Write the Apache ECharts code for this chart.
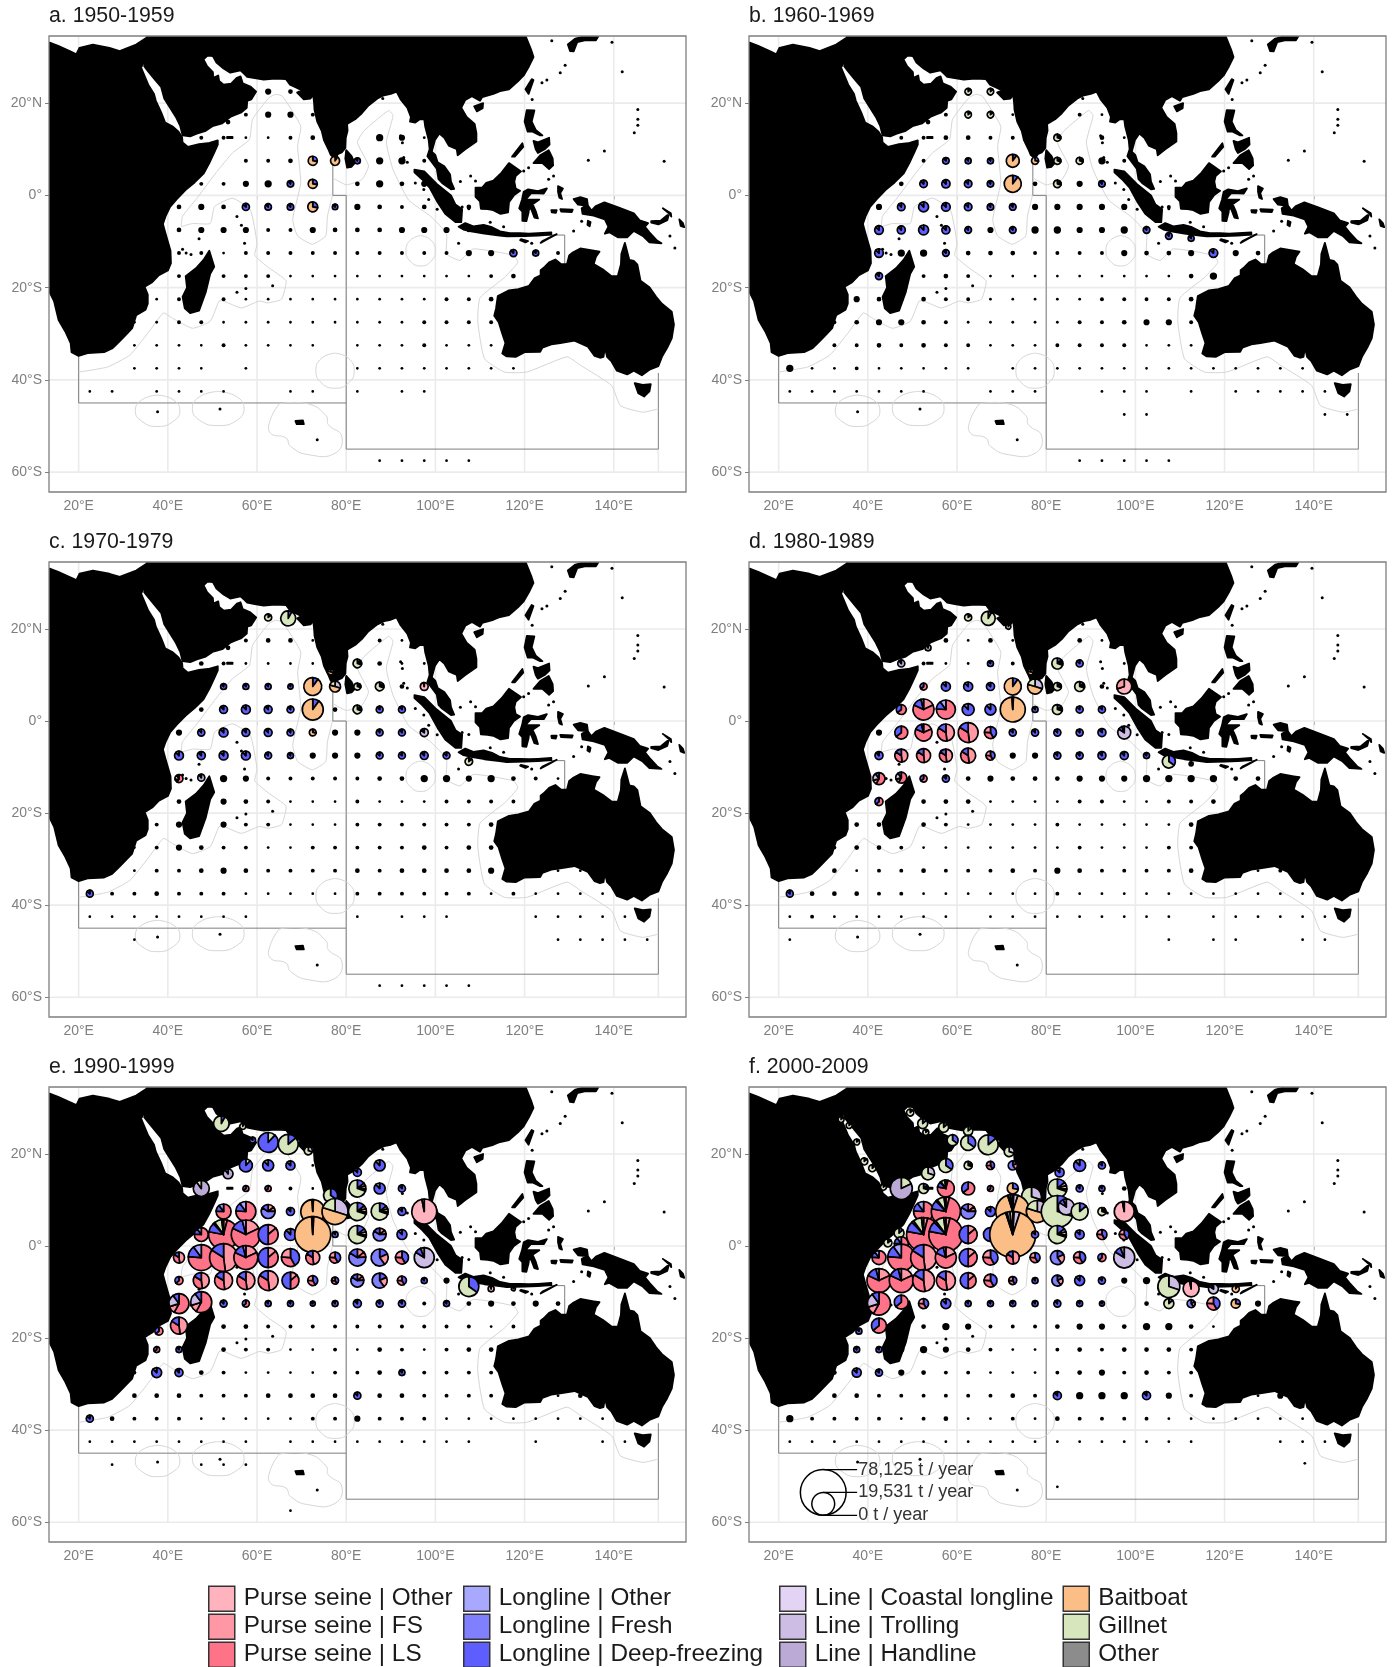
<!DOCTYPE html>
<html><head><meta charset="utf-8">
<script src="https://cdn.jsdelivr.net/npm/echarts@6/dist/echarts.min.js"></script>
<style>html,body{margin:0;background:#fff}#c{width:1397px;height:1667px}</style></head>
<body><div id="c"></div>
<script>
const gearNames=['Purse seine | Other','Purse seine | FS','Purse seine | LS','Longline | Other','Longline | Fresh','Longline | Deep-freezing','Line | Coastal longline','Line | Trolling','Line | Handline','Baitboat','Gillnet','Other'];
const gearColors=['#FFB3BE','#FF97A5','#FF7389','#A8A8FF','#8080FF','#5E5EFF','#E3D3F5','#CDBDE5','#BBAAD5','#FBBE87','#D8E6BE','#8C8C8C'];
const panelTitles=['a. 1950-1959','b. 1960-1969','c. 1970-1979','d. 1980-1989','e. 1990-1999','f. 2000-2009'];
const lonTicks=[20,40,60,80,100,120,140];
const latTicks=[20,0,-20,-40,-60];
const bubbleValues=[78125,19531,0];
const bubbleLabels=['78,125 t / year','19,531 t / year','0 t / year'];

// slice mixes, clockwise from 12 o'clock: [gear, share]
const mixes={
 BAIT:[[5,1],[9,98],[8,1]], BA2:[[5,10],[9,90]], BA3:[[5,28],[9,72]], BAM:[[5,1],[7,4],[9,90],[5,1],[8,2],[10,2]],
 BT:[[7,30],[9,50],[10,20]], GILL:[[5,8],[10,92]], GI2:[[5,14],[10,86]], GMX:[[5,14],[8,6],[9,6],[11,4],[10,70]], GT:[[7,30],[10,70]],
 GD:[[5,35],[10,65]], DEEP:[[5,88],[11,12]], DG:[[10,12],[5,88]], FRESH:[[1,14],[2,10],[4,60],[5,16]], MIXB:[[5,18],[1,22],[4,60]],
 LSW:[[1,18],[2,64],[5,14],[3,4]], LSG:[[1,4],[2,74],[5,10],[8,2],[10,8],[7,2]], LSB:[[2,76],[5,14],[3,10]], FSA:[[1,48],[2,36],[5,16]],
 BLR:[[1,14],[2,36],[5,50]], PSO:[[0,97],[11,3]], PFS:[[0,70],[1,30]], TROLL:[[7,84],[5,10],[11,6]], HAND:[[8,90],[10,10]], HG:[[10,18],[8,82]],
 PH:[[2,58],[1,12],[7,20],[5,10]], MIXR:[[5,42],[2,34],[1,24]], LSD:[[2,64],[5,36]], CO:[[6,40],[10,60]]
};

// dot rows: [lat, column (0 = 22.5E, 5 degrees each), catch in 100 t per column]
const dotsA=[[22.5,8,[10,5]],[15.9,6.2,[5]],[17.5,7,[3,10,10,3]],[12.5,5,[3,3,1,1,3,5,0,0,15,10,1,1]],[7.5,7,[3,3,5,0,0,0,15,15,3]],[2.5,5,[3,3,10,15,0,0,0,5,15,5,10]],
[-2.5,4,[5,10,5,0,0,0,0,10,10,5,3,5,0,5]],[-7.5,4,[5,10,10,10,3,3,10,5,5,5,10,10,10,5,5]],[-12.5,4,[3,3,1,3,3,3,3,3,3,3,3,3,3,10,10,0,10,3]],[-17.5,4,[3,0,3,3,3,1,1,1,1,1,1,1,1,1,3,5]],
[-22.5,3,[1,3,3,3,1,1,1,1,1,1,1,1,1,3,3,5]],[-27.5,2,[1,1,3,3,1,1,1,1,1,1,1,1,1,3,3,3,3]],[-32.5,1,[1,1,1,1,1,3,1,1,1,1,0,1,1,1,3,1,1,1]],[-37.5,2,[1,1,1,1,0,1,0,0,0,0,1,1,1,1,1,1,1,1]],
[-42.5,0,[1,1,0,1,1,1,1,0,0,1,1,0,1,0,1,1]],[-57.5,13,[1,1,1,1,1]]];
const dotsB=[[15.9,6.2,[5]],[17.5,7,[3,0,0,1,0,3,3,1]],[12.5,5,[3,3,5,5,3,3,0,0,0,5,1,1]],[7.5,6,[3,0,0,0,0,0,0,0,15,3]],[2.5,5,[5,0,0,0,0,0,5,0,10]],
[-2.5,4,[10,0,0,0,0,0,0,10,10,10,10,10,0,3]],[-7.5,9,[10,0,15,15,10,10,15]],[-12.5,5,[15,15,0,5,5,5,3,3,3,3,10,5,5,10,0,10,5]],[-17.5,6,[3,5,3,1,1,1,1,1,1,1,1,1,5,15]],
[-22.5,3,[10,5,5,5,3,3,1,1,1,1,1,3,3,3,3,5]],[-27.5,2,[3,5,10,10,5,3,1,1,1,1,1,3,3,5,10,10,3]],[-32.5,1,[5,3,3,5,3,5,3,3,1,1,1,3,3,3,3,1,1,1]],
[-37.5,0,[15,1,1,3,1,1,1,1,1,0,1,1,1,1,1,1,1,1,1,1,1,1,1,1]],[-42.5,0,[1,1,1,1,1,1,1,0,0,1,1,1,0,0,1,1,1,0,1,0,1,1,1,1,1]],[-47.5,15,[1,1]],[-47.5,24,[1,1]],[-57.5,13,[1,1,1,1,1]]];
const dotsC=[[15.9,6.2,[5]],[17.5,7,[3,5,5,1,0,3,3,1]],[12.5,5,[5,3,1,1,1,1,0,0,5,1,1]],[7.5,14,[5]],[2.5,5,[5,0,0,0,0,0,5,0,0,0]],
[-2.5,4,[10,0,0,0,0,0,0,10,10]],[-7.5,10,[10,10,10]],[-12.5,6,[15,10,3,3,3,3,3,5,5,15,15,10,15,5,3,1]],[-17.5,4,[5,0,10,5,3,1,1,1,3,1,1,1,3,3,3,3]],
[-22.5,3,[3,10,5,10,3,3,1,1,1,3,3,3,3,3,3,5]],[-27.5,2,[1,3,10,5,3,3,1,1,3,3,3,3,3,5,3,5,5]],[-32.5,1,[5,1,3,3,5,10,5,3,3,3,3,5,3,5,5,5,5,10,0,0,1,1]],
[-37.5,0,[15,3,3,5,3,3,3,1,1,1,1,1,3,3,3,3,3,3,1,3,1,1,1,1]],[-42.5,0,[1,1,1,1,1,1,1,1,0,0,0,0,1,0,1,1,1,0,0,0,1,1,1,1,1]],[-47.5,2,[1]],[-47.5,21,[1,1,1,1,1]],[-57.5,13,[1,1,1,1,1]]];
const dotsD=[[17.5,7,[5,1,5,1,0,3,5,1]],[12.5,6,[3,1,1,0,3,0,0,0,0,1]],[7.5,14,[5]],[-2.5,4,[10]],[-7.5,10,[10,10]],
[-12.5,8,[5,10,5,5,5,10,10,10,15,15,15,15,5,5]],[-17.5,6,[5,5,5,1,1,1,1,3,3,1,1,3,3,5]],[-22.5,3,[5,5,5,5,3,1,1,1,1,3,1,1,1,1,1,5]],[-27.5,2,[3,5,5,3,1,1,1,1,1,1,1,3,1,1,1,3,3]],
[-32.5,1,[5,5,1,3,3,5,3,3,3,5,3,10,5,3,3,3,3,5,0,0,1,3]],[-37.5,1,[5,5,5,3,3,1,1,1,1,1,1,3,1,1,1,1,1,1,1,1,1,1,1]],[-42.5,0,[1,3,1,1,1,1,1,1,0,1,1,1,1,1,1,1,1,1,0,1,1,1,1,1,1]],[-47.5,0,[1]],[-47.5,17,[1,0,1,1,0,0,1,1]]];
const dotsE=[[17.5,10,[1]],[12.5,9,[3,1]],[-7.5,16,[10]],[-12.5,15,[3]],[-12.5,17,[5,10,5,10,5]],
[-17.5,6,[5,5,3,3,3,3,3,3,3,3,3,3,1,3]],[-22.5,5,[3,5,3,3,1,1,3,1,5,3,1,3,5,5]],[-27.5,2,[3,0,0,5,3,1,1,1,1,3,3,5,0,3,3,3,3]],[-32.5,1,[5,5,5,5,3,3,3,5,5,5,5,0,5,5,3,3,3,3,0,0,1,5]],
[-37.5,1,[5,3,3,3,1,1,1,1,1,3,3,10,3,3,3,1,1,1,1,1,1,1,1]],[-42.5,0,[1,1,1,1,1,1,1,1,0,1,1,1,1,1,1,1,1,1,0,0,1,0,0,1,1]],[-47.5,1,[1,0,0,0,1,1,1]],[-57.5,9,[1]]];
const dotsF=[[12.5,15,[5]],[-7.5,15,[10,15]],[-12.5,16,[5]],[-12.5,21,[10]],[-17.5,6,[5,15,10,3,3,3,5,10,10,5,15,15,5,1]],[-22.5,5,[10,15,10,5,3,1,1,3,5,3,5,5,5,3]],
[-27.5,2,[5,0,0,10,5,3,3,1,1,1,3,5,10,3,5,3,3]],[-32.5,1,[5,5,5,3,3,3,3,3,3,5,3,0,15,15,15,0,10,3,0,0,1,10]],[-37.5,0,[15,3,3,3,3,1,3,5,1,1,3,1,5,3,3,3,3,1,1,1,1,1,1,1,1]],
[-42.5,0,[1,1,1,1,1,1,1,1,1,1,1,1,1,1,1,1,1,1,1,0,0,0,1,1,1]],[-47.2,23.1,[1]],[-52.3,12,[1]]];

// pies: [lon, lat, catch t/year, slice mix]
const piesA=[[72.5,7.5,3300,'BA3'],[77.5,7.5,3300,'BA2'],[82.5,7.5,1450,'DEEP'],[67.5,2.5,1700,'DEEP'],[72.5,2.5,3300,'BA3'],[57.5,-2.5,2000,'DEEP'],[62.5,-2.5,1700,'DEEP'],[67.5,-2.5,1700,'DEEP'],[72.5,-2.5,4000,'BA3'],[77.5,-2.5,1200,'DEEP'],[117.5,-12.5,2000,'DEEP'],[122.5,-12.5,1450,'DEEP']];
const piesB=[[62.5,22.5,1700,'GI2'],[67.5,22.5,1700,'GI2'],[62.5,17.5,1700,'GI2'],[67.5,17.5,1700,'GI2'],[82.5,12.5,2000,'GMX'],[57.5,7.5,1700,'DEEP'],[62.5,7.5,1450,'DEEP'],[67.5,7.5,1450,'DEEP'],[72.5,7.5,6800,'BA2'],[77.5,7.5,2000,'BA3'],[82.5,7.5,2000,'GMX'],[87.5,7.5,2000,'GMX'],
[52.5,2.5,2300,'DEEP'],[57.5,2.5,2800,'DEEP'],[62.5,2.5,2300,'DEEP'],[67.5,2.5,1700,'DEEP'],[72.5,2.5,11700,'BA2'],[82.5,2.5,2300,'GMX'],[92.5,2.5,1700,'DEEP'],
[47.5,-2.5,2300,'DEEP'],[52.5,-2.5,4000,'DEEP'],[57.5,-2.5,3000,'DEEP'],[62.5,-2.5,2300,'DEEP'],[67.5,-2.5,1700,'DEEP'],[72.5,-2.5,1800,'DEEP'],
[42.5,-7.5,3000,'DEEP'],[47.5,-7.5,2600,'DEEP'],[52.5,-7.5,4000,'DEEP'],[57.5,-7.5,2600,'DEEP'],[62.5,-7.5,1800,'DEEP'],[72.5,-7.5,1800,'DEEP'],[102.5,-7.5,1800,'DEEP'],[107.5,-8.8,1800,'DEEP'],[112.5,-9.3,1450,'DEEP'],
[42.5,-12.5,3000,'DEEP'],[57.5,-12.5,1800,'DEEP'],[117.5,-12.5,3000,'DEEP'],[42.5,-17.5,2000,'DEEP']];
const piesC=[[62.5,22.5,2000,'GI2'],[67,22.3,9000,'GILL'],[76.5,10.7,1450,'BT'],[82.5,12.5,3000,'GMX'],[52.5,7.5,1450,'DEEP'],[57.5,7.5,1450,'DEEP'],[62.5,7.5,1450,'DEEP'],[67.5,7.5,1100,'DEEP'],[72.5,7.5,13000,'BA2'],[77.5,7.5,4800,'BT'],[82.5,7.5,2000,'GMX'],[87.5,7.5,3000,'GMX'],[97.5,7.5,2500,'PSO'],
[52.5,2.5,2500,'DEEP'],[57.5,2.5,3200,'DEEP'],[62.5,2.5,2500,'DEEP'],[67.5,2.5,1900,'DEEP'],[72.5,2.5,17800,'BA2'],[82.5,2.5,3000,'GMX'],[87.5,2.5,1900,'DEEP'],[92.5,2.5,1900,'DEEP'],
[47.5,-2.5,2000,'DEEP'],[52.5,-2.5,3200,'DEEP'],[57.5,-2.5,2500,'DEEP'],[62.5,-2.5,2500,'DEEP'],[67.5,-2.5,1900,'DEEP'],[72.5,-2.5,1900,'BA3'],[87.5,-2.5,1900,'DEEP'],[92.5,-2.5,1900,'DEEP'],[97.5,-2.5,2600,'TROLL'],
[42.5,-7.5,3200,'DEEP'],[47.5,-7.5,2600,'DEEP'],[52.5,-7.5,3200,'DEEP'],[57.5,-7.5,3200,'DEEP'],[62.5,-7.5,1900,'DEEP'],[67.5,-7.5,1450,'DEEP'],[87.5,-7.5,1900,'DEEP'],[92.5,-7.5,1900,'DEEP'],[97.5,-7.5,2500,'DEEP'],[102.5,-7.5,1900,'DEEP'],[107.5,-8.8,2300,'GI2'],
[42.5,-12.5,2600,'PH'],[47.5,-12.3,2000,'HAND'],[22.5,-37.5,1900,'DEEP']];
const piesD=[[62.5,22.5,2000,'GI2'],[67,22.3,7900,'GILL'],[71.5,20.5,1000,'GILL'],[53.5,15.9,1450,'HAND'],[47.5,12.5,2000,'HAND'],[67.5,12.5,1450,'DEEP'],[76.5,10.7,1450,'BT'],[82.5,12.5,4900,'GMX'],[87.5,12.5,2000,'DEEP'],
[52.5,7.5,2000,'LSD'],[57.5,7.5,3300,'DEEP'],[62.5,7.5,3300,'DEEP'],[67.5,7.5,2600,'DEEP'],[72.5,7.5,11700,'BA2'],[77.5,7.5,9100,'BT'],[82.5,7.5,2600,'GMX'],[87.5,7.5,4000,'GMX'],[97.5,7.5,9100,'PFS'],
[47.5,2.5,4000,'LSD'],[52.5,2.5,17800,'LSW'],[57.5,2.5,14600,'LSB'],[62.5,2.5,5800,'DEEP'],[67.5,2.5,4900,'DEEP'],[72.5,2.5,25200,'BAIT'],[77.5,2.5,1450,'DEEP'],[82.5,2.5,4000,'GMX'],[87.5,2.5,2000,'DEEP'],[92.5,2.5,2000,'DEEP'],
[47.5,-2.5,6800,'LSD'],[52.5,-2.5,11700,'LSW'],[57.5,-2.5,11700,'FSA'],[62.5,-2.5,16100,'FSA'],[67.5,-2.5,5800,'MIXR'],[72.5,-2.5,2000,'DEEP'],[77.5,-2.5,2000,'DEEP'],[82.5,-2.5,2000,'DEEP'],[87.5,-2.5,2000,'DEEP'],[92.5,-2.5,2600,'DEEP'],[97.5,-2.5,6800,'TROLL'],
[42.5,-7.5,2600,'DEEP'],[47.5,-7.5,6800,'FSA'],[52.5,-7.5,7900,'FSA'],[57.5,-7.5,6800,'FSA'],[62.5,-7.5,9100,'FSA'],[67.5,-7.5,3300,'MIXR'],[82.5,-7.5,2000,'DEEP'],[87.5,-7.5,2000,'DEEP'],[92.5,-7.5,2600,'DEEP'],[97.5,-7.5,2600,'DEEP'],[102.5,-7.5,1450,'DEEP'],[107.5,-8.8,6800,'GD'],[112.5,-9.3,650,'DEEP'],
[42.5,-12.5,5800,'PH'],[47.5,-12.3,4900,'PH'],[52.5,-12.5,2000,'LSD'],[57.5,-12.5,2000,'DEEP'],[42.5,-17.5,2600,'LSD'],[22.5,-37.5,1900,'DEEP']];
const piesE=[[52,26.6,9800,'GILL'],[56.8,26,1450,'GILL'],[59,23,1450,'DEEP'],[62.5,22.5,16100,'DG'],[67,22.1,16100,'GI2'],[71.5,20.7,2600,'GT'],[53.5,15.7,4000,'HAND'],[57.5,17.5,6800,'DG'],[62.5,17.5,4900,'DEEP'],[67.5,17.5,3300,'DEEP'],[82.5,16,2600,'DEEP'],[87.5,17.5,4900,'DEEP'],
[47.5,12.5,10300,'HAND'],[57.5,12.5,1450,'LSD'],[62.5,12.5,1450,'LSD'],[76.5,11,7900,'GD'],[82.5,12.5,11700,'GMX'],[87.5,12.5,4900,'DEEP'],[92.5,12.5,2000,'DEEP'],
[52.5,7.5,9100,'LSB'],[57.5,7.5,16100,'LSB'],[62.5,7.5,7900,'FRESH'],[67.5,7.5,2600,'DEEP'],[72.5,7.5,23200,'BAIT'],[77.5,7.5,27300,'BT'],[82.5,7.5,13100,'GMX'],[87.5,7.5,11700,'GMX'],[92.5,7.5,2600,'DEEP'],[97.5,7.5,25200,'PSO'],
[47.5,2.5,7900,'LSB'],[52.5,2.5,36000,'LSG'],[57.5,2.5,34000,'LSW'],[62.5,2.5,16100,'BLR'],[67.5,2.5,5800,'DEEP'],[72.5,2.5,52300,'BAIT'],[77.5,2.5,1450,'DEEP'],[82.5,2.5,13100,'GMX'],[87.5,2.5,6800,'FRESH'],[92.5,2.5,4000,'DEEP'],
[42.5,-2.5,4900,'FSA'],[47.5,-2.5,27300,'LSB'],[52.5,-2.5,31600,'FSA'],[57.5,-2.5,23200,'LSW'],[62.5,-2.5,16100,'BLR'],[67.5,-2.5,13100,'MIXR'],[72.5,-2.5,7900,'FSA'],[77.5,-2.5,4900,'MIXR'],[82.5,-2.5,11700,'FRESH'],[87.5,-2.5,11700,'MIXB'],[92.5,-2.5,6800,'MIXR'],[97.5,-2.5,16100,'TROLL'],
[42.5,-7.5,2600,'LSD'],[47.5,-7.5,10300,'FSA'],[52.5,-7.5,13100,'FSA'],[57.5,-7.5,13100,'FSA'],[62.5,-7.5,16100,'FSA'],[67.5,-7.5,11700,'BLR'],[72.5,-7.5,4000,'MIXR'],[77.5,-7.5,2000,'MIXR'],[82.5,-7.5,6800,'FRESH'],[87.5,-7.5,9100,'MIXB'],[92.5,-7.5,3300,'MIXR'],[97.5,-7.5,1450,'DEEP'],[107.5,-8.8,16100,'GD'],[112.5,-9.3,1450,'PSO'],[117.5,-9.3,650,'GILL'],
[42.5,-12.5,16100,'PH'],[47.5,-12.2,17800,'PH'],[52.5,-12.5,2000,'DEEP'],[57.5,-12.5,2000,'LSD'],[62.5,-12.5,1450,'DEEP'],[67.5,-12.5,1450,'DEEP'],[72.5,-12.5,1000,'DEEP'],[77.5,-12.5,1450,'DEEP'],[82.5,-12.5,2600,'DEEP'],[87.5,-12.5,2000,'DEEP'],[92.5,-12.5,2000,'DEEP'],[102.5,-12.5,1450,'DEEP'],
[42.5,-17.3,11700,'FSA'],[38,-18.5,2600,'LSD'],[37.5,-22.5,1450,'LSD'],[42.5,-22.5,1450,'DEEP'],[37.5,-27.5,4000,'DEEP'],[42.5,-27.5,2600,'DEEP'],[92.5,-27.5,1450,'DEEP'],[82.5,-32.5,2000,'DEEP'],[22.5,-37.5,2000,'DEEP']];
const piesF=[[34,27.5,1450,'GI2'],[35.8,26.2,1450,'GI2'],[37.5,22.6,1450,'GI2'],[39.2,18.4,2000,'GI2'],[41,16.9,2000,'GI2'],[43.5,12.8,1450,'GI2'],[49.5,29,2000,'GI2'],[52.3,26.6,4000,'GI2'],[53,24.7,1450,'GI2'],[57,25.8,4000,'GI2'],[62.5,25,3300,'GI2'],[59,23,4900,'GD'],[62.5,22.4,9100,'GD'],[67,22,16100,'GI2'],[71.7,20.5,4000,'GT'],
[53.5,15.8,6800,'GT'],[57.5,17.5,7900,'GD'],[62.5,17.5,2600,'GMX'],[67.5,17.5,2600,'MIXR'],[72.5,17.5,3300,'MIXB'],[83,16,3300,'DEEP'],[87.5,17.5,5800,'DEEP'],[92.5,17.5,2000,'DEEP'],
[47.5,12.5,19500,'HG'],[52.5,12.5,4000,'GMX'],[57.5,12.5,11700,'LSG'],[62.5,12.5,6800,'LSD'],[67.5,12.5,1450,'LSD'],[72.5,12.5,4900,'BA3'],[76.7,10.7,16100,'GT'],[82.5,12.5,14600,'GMX'],[87.5,12.5,2000,'DEEP'],[92.5,12.5,1450,'DEEP'],
[52.5,7.5,16100,'LSB'],[57.5,7.5,34000,'LSG'],[62.5,7.5,9100,'FRESH'],[67.5,7.5,4000,'DEEP'],[72.5,7.5,46600,'BAM'],[78,7.5,19500,'BT'],[82.5,7.5,41300,'GMX'],[84.5,8.5,10300,'TROLL'],[87.5,7.5,11700,'GI2'],[92.5,7.5,2600,'GMX'],[97.5,7.5,16100,'PSO'],
[44.5,0.7,2600,'GI2'],[47,2.8,4000,'GI2'],[47.5,0.5,7900,'LSB'],[52.5,2.5,46600,'LSG'],[57.5,2.5,46600,'LSG'],[62.5,2.5,13100,'BLR'],[67.5,2.5,7900,'BLR'],[72.5,2.5,85400,'BAM'],[77.5,2.5,2000,'DEEP'],[82.5,2.5,13100,'GMX'],[87.5,2.5,3300,'DEEP'],[92.5,2.5,4000,'MIXR'],[97.5,2.5,4000,'MIXR'],
[42.5,-2.5,7900,'LSB'],[47.5,-2.5,29400,'LSB'],[52.5,-2.5,27300,'FSA'],[57.5,-2.5,17800,'LSW'],[62.5,-2.5,13100,'BLR'],[67.5,-2.5,9100,'MIXR'],[72.5,-2.5,6800,'FSA'],[77.5,-2.5,4000,'MIXR'],[82.5,-2.5,7900,'MIXB'],[87.5,-2.5,5800,'MIXR'],[92.5,-2.5,2600,'LSD'],[97.5,-2.5,17800,'TROLL'],
[42.5,-7.5,23200,'LSW'],[47.5,-7.5,23200,'LSW'],[52.5,-7.5,19500,'FSA'],[57.5,-7.5,14600,'FSA'],[62.5,-7.5,10300,'BLR'],[67.5,-7.5,6800,'MIXR'],[72.5,-7.5,2600,'MIXR'],[77.5,-7.5,1450,'DEEP'],[82.5,-7.5,4900,'MIXB'],[87.5,-7.5,4000,'DEEP'],[92.5,-7.5,2000,'DEEP'],[107.5,-8.8,19500,'GT'],[112.5,-9.3,10300,'PSO'],[117.5,-9.3,4000,'TROLL'],[122.5,-9.3,2000,'BA2'],
[42.5,-12.5,21300,'PH'],[47.5,-12.2,7900,'LSD'],[52.5,-12.5,4000,'MIXR'],[57.5,-12.5,4000,'DEEP'],[62.5,-12.5,1450,'DEEP'],[67.5,-12.5,1450,'DEEP'],[72.5,-12.5,1450,'DEEP'],[77.5,-12.5,1450,'DEEP'],[82.5,-12.5,2000,'DEEP'],[87.5,-12.5,1450,'DEEP'],[92.5,-12.5,1000,'DEEP'],[107.5,-12.5,4000,'GI2'],[112.5,-12.5,2600,'MIXB'],[117.5,-12.5,6800,'MIXR'],[122.5,-12.5,3300,'BA3'],
[42.5,-17.3,9100,'LSD'],[38,-18.5,1450,'DEEP'],[37.5,-22.5,1450,'DEEP'],[42.5,-22.5,1450,'DEEP'],[37.5,-27.5,3300,'DEEP'],[42.5,-27.5,2000,'DEEP'],[82.5,-32.5,2600,'DEEP'],[102.5,-32.5,2600,'DEEP']];

// coastlines [lon, lat]
const landAfrica=[[10,33.1],[13.5,33.1],[15.4,32.4],[18,31.3],[19.5,30.6],[20.2,32],[23.2,32.7],[26.9,32],[29.2,31.3],[32.9,32.7],[35.3,34.2],[35,29.5],[34,27.7],[35.6,24],[36.9,22],[37.3,20.5],[38.5,18],[39.4,15.8],[41,15],[42.4,13.8],[43.2,12.6],[43.3,11.5],[44.5,10.5],[47,11.1],[49,11.3],[51.2,11.9],[51.2,11],[50.5,9.5],[49.3,7],[48,4.7],[46,2.8],[44,1.2],[42,-0.8],[40.5,-2.5],[39.5,-4.5],[38.9,-6.2],[39.4,-8],[40.6,-12],[40.7,-14.7],[40,-16.3],[38,-17.3],[36.5,-18.8],[34.8,-19.8],[35.5,-21.5],[35.5,-23.5],[35,-24.8],[32.9,-26],[32,-28.8],[30.8,-30],[29,-31.8],[27.5,-33.2],[25.7,-34],[22,-34.2],[20,-34.8],[18.4,-34],[18.2,-32],[17,-29.5],[15.5,-27],[14.5,-23],[13.5,-21],[10,-18]];
const landAsia=[[35.3,34.2],[35.3,36],[120.2,36],[120.2,34.6],[121.5,31.5],[122,30],[121,28],[119.8,26],[118.5,24.7],[116.5,23],[114.5,22.6],[113,22],[110.5,21.3],[110,20.5],[108.2,21.5],[106.7,20.7],[105.8,19],[107,17],[108.8,15.5],[109.2,13.5],[109.2,11.7],[106.7,10],[105,8.7],[104.8,10],[103,10.8],[102,12.5],[100.9,13.4],[99.9,12],[99.2,9.5],[100,8.7],[100.5,7.2],[102,6.3],[103.3,4.5],[103.5,3],[104.2,1.4],[103.5,1.3],[101.5,2.7],[100.7,3.5],[100.3,5.8],[99.5,6.8],[98.2,8.5],[98.7,10],[98.5,12],[97.7,15],[97.5,16.5],[96.5,16.5],[95.5,15.8],[94.3,16],[94.5,17],[93.7,19],[92.2,20.8],[91.3,22.5],[90,22],[88.5,21.7],[87,21],[85,19.5],[83.5,17.8],[82,16.5],[80.2,15.5],[80.3,14],[79.9,12.5],[79.8,10.3],[79,9.3],[78.2,9],[77.5,8],[76.5,8.8],[76,10],[75,12],[74.5,14],[73.5,16],[72.9,18.5],[72.8,20],[72.6,21.8],[72,21],[70.5,20.8],[69,22.3],[70,22.8],[68.5,23.5],[67.4,24],[66.5,25.2],[64,25.3],[61.5,25.1],[59.5,25.4],[57.8,25.7],[57.3,26.2],[56.3,27.1],[54,26.6],[52.5,27.5],[50.9,28.8],[50.1,30.2],[48.9,30.3],[48,29.5],[48.8,28],[50.1,26.7],[50.2,25.5],[51.3,26],[51.5,24.8],[52.5,24],[54.2,24.2],[55.5,25.5],[56.3,25.8],[56.8,24.3],[58.5,23.6],[59.8,22.5],[58.7,20.8],[57.8,20.5],[57.7,19],[56.5,18],[55.2,17.5],[54,17],[52.2,15.6],[50,15],[48.5,14],[46.5,13.4],[45,12.8],[43.3,13],[42.8,15],[41.8,17],[40.5,19],[39.2,21],[38.5,23.5],[37.2,25],[35.5,27],[34.7,28],[35,29.5]];
const landAustralia=[[113.2,-26.1],[113.6,-24.5],[114,-21.8],[116.5,-20.6],[118.6,-20.3],[121,-19.6],[122.2,-18],[123.6,-17.3],[123.6,-16.2],[124.5,-15.5],[125.5,-14.5],[126.9,-13.9],[128.2,-14.9],[129.5,-14.9],[130,-13],[130.8,-12.4],[132.5,-11.5],[135.5,-12],[136.8,-12.2],[136,-13.3],[135.5,-14.9],[137.5,-16],[139.5,-17.5],[140.9,-17.5],[141.6,-15],[141.7,-12.7],[142.5,-10.3],[143.5,-14],[144.5,-14.2],[145.3,-15],[146,-18.5],[148,-19.9],[149.5,-22],[150.8,-23.5],[153,-25.2],[153.5,-28],[153,-31],[152,-33],[150.8,-35],[150,-37],[148,-37.8],[146.3,-39],[144.5,-38],[143,-38.8],[140.7,-38],[139.5,-36],[138.5,-35],[138,-33],[137.7,-35],[136.9,-35.2],[135.7,-34.8],[134.2,-32.8],[131.2,-31.5],[128,-32],[126,-32.3],[124,-33],[123.5,-33.9],[120,-34],[118,-35],[116,-34.9],[115,-34.3],[115.7,-32],[115,-30],[114.2,-27.5]];
const landIslands=[
[[49.3,-12],[50.4,-15.5],[49.5,-17],[48.5,-21],[47,-25],[45,-25.5],[43.8,-24.5],[43.3,-22],[44.3,-20],[44,-17.5],[46.3,-15.8],[48,-14]],
[[80,9.8],[81.2,8.5],[81.9,7],[81.2,6.2],[80.2,6],[79.8,8]],
[[108.7,19.3],[110.7,20],[110.6,18.9],[109.3,18.2]],
[[95.3,5.6],[97.5,5.2],[100.3,2.5],[103.5,0],[104.5,-2],[106,-3],[105.8,-5.8],[104.5,-5.8],[102.2,-4],[100.5,-1.5],[98.7,1.7],[97,3.5],[95.3,5]],
[[105.2,-6.8],[106.7,-6],[108.5,-6.7],[110.8,-6.4],[112.7,-6.9],[114.5,-7.8],[116.7,-8.2],[119,-8.2],[121,-8.3],[123,-8.2],[126,-8],[126,-8.5],[123,-8.7],[120,-8.8],[116,-8.9],[114.4,-8.7],[111,-8.3],[108,-7.8],[106.3,-7.4]],
[[124,-9.9],[127.2,-8.4],[125.5,-9.3],[123.6,-10.3]],
[[109,1.7],[110.5,1.7],[111.4,2.7],[113,3.2],[114.8,4.9],[116.5,7],[117.7,6.2],[119.2,5.2],[118,4.2],[117.7,3],[118,1.5],[119,1],[117.6,0],[116.5,-1.5],[116.3,-3.7],[114.6,-4],[113,-3.2],[111.7,-3],[110.2,-2.9],[110,-1.3],[109,-0.3]],
[[119.8,0.8],[120.8,1.3],[123,0.9],[125,1.5],[124.3,0.4],[121.5,0.5],[120.2,-0.9],[121.5,-0.9],[123.3,-0.9],[121.8,-1.9],[122.5,-3.4],[123,-5],[122.2,-4.8],[121.5,-3],[121,-2.8],[120.9,-3.7],[120.4,-5.6],[119.5,-5.5],[119.5,-3.5],[118.8,-2.8],[119.4,-1]],
[[120.5,18.5],[122.2,18.4],[121.6,16],[122.5,14.2],[124,13],[123.5,13],[121.8,13.8],[120.7,13.8],[120,16]],
[[122,7],[123.5,8.7],[125.4,9.8],[126.3,8],[126.4,6.5],[125.5,5.7],[124,7]],
[[122,11.8],[123,11.5],[125.5,12.5],[125.6,11],[124.5,10],[123,9.2],[122.5,10]],
[[117.2,8.4],[119.5,11.3],[119.7,10.5],[117.8,8.4]],
[[120.2,23],[121.6,25.2],[122,25],[120.9,22]],
[[131,-0.8],[132.5,-0.4],[134,-0.8],[134.2,-2.2],[135,-3.3],[136,-2.3],[137.9,-1.5],[141,-2.6],[144.5,-3.9],[145.8,-5.4],[147.7,-6],[147,-6.8],[148,-8],[149.7,-9.8],[150.7,-10.4],[148,-10.2],[146.5,-8.8],[144.5,-7.7],[143,-9.1],[141,-9.1],[139,-8],[138,-8.3],[138.8,-6.8],[138,-5.2],[135.5,-4.4],[133,-4],[132.8,-2.8],[133.8,-2.2],[132,-2]],
[[127.5,2],[128.6,1.5],[128,0.5],[128.4,-0.8],[127.8,-0.5],[127.5,0.8]],
[[128,-3],[130.8,-3.1],[130.6,-3.6],[128.2,-3.5]],[[126,-3.2],[127.2,-3.2],[127,-3.8],[126.1,-3.7]],
[[129.7,32.7],[131.4,34],[133,34.4],[136.6,34.6],[136,33.6],[133.5,33.6],[131.8,33.2],[131,31.2],[130.2,31.3]],
[[148.4,-5.6],[150.5,-5.5],[152,-4.3],[152.3,-4.3],[152,-5.4],[150,-6.3],[148.4,-5.9]],
[[151,-2.8],[152.8,-3.9],[152.9,-4.6],[152.5,-4]],
[[154.7,-5.2],[155.5,-6],[155.8,-6.9],[155,-6.6]],
[[144.7,-40.7],[146.5,-41.1],[148.3,-40.9],[148,-42.5],[146.8,-43.6],[145.5,-42.9]],
[[68.6,-48.9],[70.3,-48.8],[70.5,-49.6],[68.9,-49.6]],
[[53.3,12.4],[54.5,12.4],[54.5,12.7],[53.3,12.7]],
[[134.2,-5.5],[134.8,-5.8],[134.6,-6.7],[134.1,-6.4]],
[[119.2,-9.5],[120.8,-9.9],[120.2,-10.2],[119,-9.7]]];
const islandPoints=[[57.5,-20.2],[55.5,-21],[43.3,-11.7],[44.1,-12.5],[45.2,-12.8],[73.5,-53],[51.7,-46.3],[37.7,-46.9],[139.6,33.2],[141.9,26.8],[145.4,18.6],[145.4,16.5],[145.4,15.2],[144.6,13.6],[137.9,9.6],[134.3,7.6],[151.3,7.4],[128,26.6],[129.1,28.2],[123.9,24.4],[125,25],[126.1,33.5],[121.7,20.8],[107.9,4.2],[109,3.1],[105.6,3],[107.5,-2.9],[106,-2.5],[92.2,12.9],[92.6,11.4],[92.9,8.2],[93.7,7.2],[132.8,-5.6],[131,-7.7],[125.4,3.5],[126.5,4.2],[119.8,5.3],[120.9,6],[152.6,-8.8],[153.7,-11.4],[121.6,-10.4],[112.3,-5.8],[115.3,-6.8],[105.2,-10.4],[95.5,2.7],[97.4,1.3],[98.5,-0.9],[100.4,-3],[88.2,21],[56.5,-6.5],[55.5,-4.6],[47,-9.4],[57.2,-10.4],[63.5,-19.6]];

// grey area frames and EEZ outlines [lon, lat]
const areaFrames=[[[20,-34.7],[20,-45],[80,-45],[80,0],[77,0],[77,8]],[[80,-45],[80,-55],[150,-55],[150,-38.5]],[[125,-8.6],[129,-8.6],[129,-15]]];
const eezLines=[
[[43,-6.7],[43.3,-4.5],[46.3,-0.9],[50.8,4.9],[54.5,9.2],[58.3,12.1],[59,16.5],[62.7,21.2],[64.2,21.9],[65.7,21.5],[69.8,15],[69.1,10.7],[69.8,2.7],[68,-5.2],[69.1,-8.8],[72.4,-10.6],[75.4,-8.8],[75.8,-4.5],[76.9,-0.1]],
[[77,3.8],[80,2.3],[83.5,3.4],[85,6.4],[82.5,11.5],[84,14],[89.5,18.4],[90.5,17.3],[89,11.5],[90.5,5.6],[94,-1],[99,-4.6],[102.5,-8.3],[102.5,-12.7],[105.5,-14.1],[108.5,-11.6],[117.5,-13],[118.5,-14.5],[115.5,-17.8],[110,-22.2],[109.5,-27.3],[111,-35.4],[115.5,-38.3],[120.5,-38.3],[129.5,-35],[132.5,-36.8],[139.5,-41.2],[141.5,-45.6],[146.5,-47],[150,-46.3]],
[[43,-6.8],[45.5,-6.1],[49.5,-6.1],[50.5,-2.4],[54.5,-0.6],[58.5,-3.1],[60,-10.5],[59.5,-13],[62.5,-15.6],[66.5,-18.5],[65.5,-22.5],[62.5,-23.3],[60.5,-22.9],[56.5,-24.4],[52.5,-22.9],[51.5,-22.9],[49.5,-27.3],[45.5,-28.8],[41,-26.6],[39,-25.5],[35.5,-29.9],[31.5,-34.6],[26.5,-37.2],[20,-38.3]],
[[96.7,-8.7],[99,-9.7],[100,-12],[99,-14.3],[96.7,-15.3],[94.4,-14.3],[93.4,-12],[94.4,-9.7],[96.7,-8.7]],
[[77.5,-34.2],[80.5,-35.3],[81.8,-38],[80.5,-40.7],[77.5,-41.8],[74.5,-40.7],[73.2,-38],[74.5,-35.3],[77.5,-34.2]],
[[37.7,-43.3],[41.2,-44.3],[42.7,-46.7],[41.2,-49],[37.7,-50.1],[34.2,-49],[32.7,-46.7],[34.2,-44.3],[37.7,-43.3]],
[[51.3,-42.5],[55.4,-43.6],[57.1,-46.2],[55.4,-48.8],[51.3,-49.9],[47.2,-48.8],[45.5,-46.2],[47.2,-43.6],[51.3,-42.5]],
[[65,-45.2],[71.5,-45.2],[75.5,-47.8],[76,-49.7],[79,-52.2],[77.5,-55.9],[71.5,-56.2],[67.5,-54.4],[66.5,-52.6],[63,-51.5],[63,-48.6],[65,-45.2]]];
const graticuleExtra=[[[150,-55],[150,-60]]];

const panelDots=[dotsA,dotsB,dotsC,dotsD,dotsE,dotsF];
const panelPies=[piesA,piesB,piesC,piesD,piesE,piesF];
const rects=[[49,36,637,456],[749,36,637,456],[49,562,637,455],[749,562,637,455],[49,1087,637,455],[749,1087,637,455]];
const lonRange=[13.35,156.2], latRange=[-64.3,34.55];
const FONT='"Liberation Sans",Arial,Helvetica,sans-serif';
const radius=t=>22*Math.sqrt(t/78125);
const fmtLat=v=>v===0?'0°':Math.abs(v)+'°'+(v>0?'N':'S');

const grids=[],xAxes=[],yAxes=[],titles=[],series=[];
function cs(i,name,z,data,renderItem,clip){
  series.push({type:'custom',name,coordinateSystem:'cartesian2d',xAxisIndex:i,yAxisIndex:i,z,silent:true,clip:clip!==false,animation:false,data,renderItem});
}
rects.forEach((r,i)=>{
  grids.push({left:r[0],top:r[1],width:r[2],height:r[3],show:false,containLabel:false});
  xAxes.push({type:'value',gridIndex:i,min:lonRange[0],max:lonRange[1],splitLine:{show:false},axisLine:{show:false},
    axisTick:{show:true,length:4,lineStyle:{color:'#7f7f7f'},customValues:lonTicks},
    axisLabel:{show:true,customValues:lonTicks,formatter:v=>v+'°E',color:'#7f7f7f',fontSize:14,fontFamily:FONT,margin:7}});
  yAxes.push({type:'value',gridIndex:i,min:latRange[0],max:latRange[1],splitLine:{show:false},axisLine:{show:false},
    axisTick:{show:true,length:4,lineStyle:{color:'#7f7f7f'},customValues:latTicks},
    axisLabel:{show:true,customValues:latTicks,formatter:fmtLat,color:'#7f7f7f',fontSize:14,fontFamily:FONT,margin:7}});
  titles.push({text:panelTitles[i],left:r[0],top:r[1]-30.5,padding:0,textStyle:{fontSize:21.3,fontWeight:'normal',color:'#1a1a1a',fontFamily:FONT}});

  const gridSegs=lonTicks.map(l=>[[l,latRange[1]],[l,-60]]).concat(latTicks.map(l=>[[lonRange[0],l],[lonRange[1],l]]),graticuleExtra);
  const polyl=(sets,style)=>(p,api)=>({type:'polyline',shape:{points:sets[p.dataIndex].map(q=>api.coord(q))},style});
  const idx=a=>a.map((_,k)=>[k]);
  cs(i,'graticule',1,idx(gridSegs),polyl(gridSegs,{stroke:'#ebebeb',lineWidth:1.6,fill:null}));
  cs(i,'frames',2,idx(areaFrames),polyl(areaFrames,{stroke:'#7f7f7f',lineWidth:1,fill:null}));
  cs(i,'eez',3,idx(eezLines),(p,api)=>{const k=p.dataIndex;return {type:'polyline',shape:{points:eezLines[k].map(q=>api.coord(q)),smooth:k>2?0.5:0.15},style:{stroke:'#d6d6d6',lineWidth:1,fill:null}};});
  const polys=[landAfrica,landAsia,landAustralia].concat(landIslands);
  cs(i,'land',4,idx(polys),(p,api)=>({type:'polygon',shape:{points:polys[p.dataIndex].map(q=>api.coord(q))},style:{fill:'#000',stroke:'#000',lineWidth:1.8,lineJoin:'round'}}));
  cs(i,'islands',5,islandPoints,(p,api)=>{const c=api.coord([api.value(0),api.value(1)]);return {type:'circle',shape:{cx:c[0],cy:c[1],r:1.5},style:{fill:'#000'}};});

  const dots=[];
  panelDots[i].forEach(row=>row[2].forEach((v,k)=>{if(v>0)dots.push([22.5+5*(row[1]+k),row[0],v*100]);}));
  cs(i,'dots',6,dots,(p,api)=>{const c=api.coord([api.value(0),api.value(1)]);return {type:'circle',shape:{cx:c[0],cy:c[1],r:radius(api.value(2))+0.6},style:{fill:'#000'}};});

  const pies=panelPies[i];
  cs(i,'catch',7,pies.map(a=>a.slice(0,3)),(p,api)=>{
    const c=api.coord([api.value(0),api.value(1)]),R=radius(api.value(2)),mix=mixes[pies[p.dataIndex][3]];
    const tot=mix.reduce((s,m)=>s+m[1],0);let a=-Math.PI/2;
    const children=mix.map(m=>{const b=a+m[1]/tot*2*Math.PI;
      const el={type:'sector',shape:{cx:c[0],cy:c[1],r:R,r0:0,startAngle:a,endAngle:b,clockwise:true},style:{fill:gearColors[m[0]],stroke:'#000',lineWidth:1.7,lineJoin:'round'}};
      a=b;return el;});
    return {type:'group',children};
  });
  if(i===5){
    cs(i,'size key',8,bubbleValues.map(v=>[30,-58.5,v]),(p,api)=>{
      const b=api.coord([30,-58.5]),R=radius(api.value(2))*1.04,top=b[1]-2*R,end=api.coord([37.6,0])[0];
      const kids=[{type:'line',shape:{x1:b[0],y1:top,x2:end,y2:top},style:{stroke:'#000',lineWidth:1.3}},
        {type:'text',x:end+1,y:top,style:{text:bubbleLabels[p.dataIndex],fontSize:18,fontFamily:FONT,fill:'#333',verticalAlign:'middle',textAlign:'left'}}];
      if(R>0)kids.unshift({type:'circle',shape:{cx:b[0],cy:b[1]-R,r:R},style:{fill:null,stroke:'#000',lineWidth:1.5}});
      return {type:'group',children:kids};
    },false);
  }
  cs(i,'panel border',9,[[0]],(p,api)=>{const g=p.coordSys;return {type:'rect',shape:{x:g.x,y:g.y,width:g.width,height:g.height},style:{fill:null,stroke:'#7f7f7f',lineWidth:1.3}};},false);
});
gearNames.forEach((n,k)=>series.push({type:'custom',name:n,coordinateSystem:'cartesian2d',xAxisIndex:0,yAxisIndex:0,data:[],itemStyle:{color:gearColors[k]},renderItem:()=>null}));

const legendLefts=[208,463,779,1062.5];
const legends=legendLefts.map((left,c)=>({orient:'vertical',left,top:1585.5,height:120,itemWidth:26,itemHeight:25,itemGap:1.5,padding:0,selectedMode:false,icon:'rect',
  itemStyle:{borderColor:'#333',borderWidth:1.5},
  textStyle:{fontSize:24.3,lineHeight:25,color:'#1a1a1a',fontFamily:FONT,padding:[0,0,0,4]},
  data:gearNames.slice(c*3,c*3+3)}));

const chart=echarts.init(document.getElementById('c'),null,{renderer:'canvas'});
chart.setOption({animation:false,backgroundColor:'#fff',title:titles,grid:grids,xAxis:xAxes,yAxis:yAxes,legend:legends,tooltip:{show:false},series});
</script></body></html>
